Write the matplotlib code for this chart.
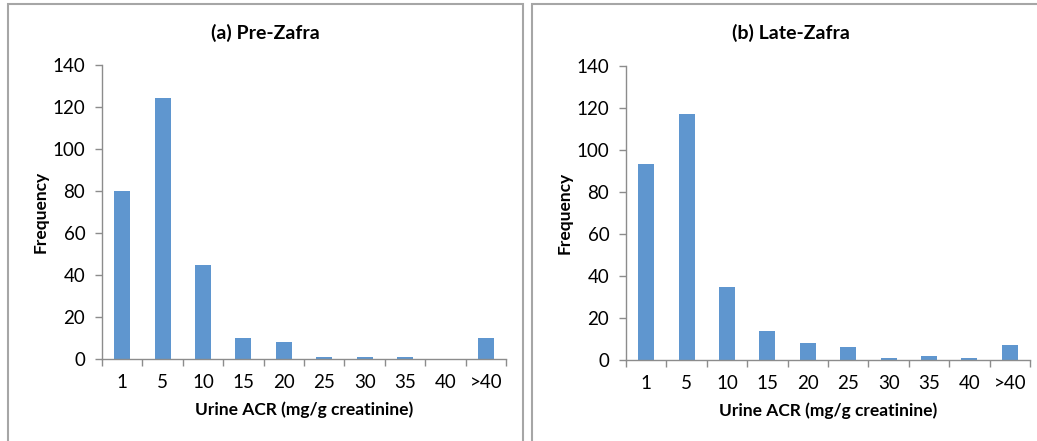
import matplotlib
matplotlib.use("Agg")
from matplotlib import pyplot as plt
from matplotlib.patches import Rectangle
import numpy as np

plt.rcParams['font.family'] = ['Lato', 'DejaVu Sans']

bins = ["1", "5", "10", "15", "20", "25", "30", "35", "40", ">40"]
pre_zafra = [80, 124.5, 45, 10, 8, 1, 1, 1, 0, 10]
late_zafra = [93.5, 117, 35, 14, 8, 6, 1, 2, 1, 7]

titles = ["(a) Pre-Zafra", "(b) Late-Zafra"]
bar_color = "#5F96CF"
axis_gray = "#8C8C8C"

W, H = 1037, 441
fig = plt.figure(figsize=(W / 100, H / 100), dpi=100)

# panel frames (pixel coords -> figure fraction)
for x0, x1 in [(8, 523), (532, 1060)]:
    fig.patches.append(Rectangle((x0 / W, -0.05), (x1 - x0) / W, 1.05 - 4 / H,
                                 transform=fig.transFigure, fill=False,
                                 edgecolor="#A6A6A6", linewidth=1.5))

panels = [
    (102, 506, 65, 359, pre_zafra, 265),
    (626, 1030, 66, 360, late_zafra, 791),
]

x = np.arange(len(bins))
for (px0, px1, py0, py1, vals, tx), title in zip(panels, titles):
    ax = fig.add_axes([px0 / W, 1 - py1 / H, (px1 - px0) / W, (py1 - py0) / H])
    ax.bar(x, vals, width=0.4, color=bar_color)
    ax.set_xlim(-0.5, len(bins) - 0.5)
    ax.set_ylim(0, 140)
    ax.set_yticks(range(0, 141, 20))
    ax.set_xticks(x)
    ax.set_xticklabels(bins)
    ax.set_xticks(np.arange(-0.5, len(bins), 1), minor=True)
    ax.tick_params(axis="x", which="major", length=0, pad=11, labelsize=13.5)
    ax.tick_params(axis="x", which="minor", length=5, color=axis_gray, width=1)
    ax.tick_params(axis="y", length=5, color=axis_gray, width=1, pad=7, labelsize=13.5)
    for s in ["top", "right"]:
        ax.spines[s].set_visible(False)
    for s in ["left", "bottom"]:
        ax.spines[s].set_color(axis_gray)
        ax.spines[s].set_linewidth(1)
    ax.set_xlabel("Urine ACR (mg/g creatinine)", fontweight="bold", fontsize=12.5, labelpad=7)
    ax.set_ylabel("Frequency", fontweight="bold", fontsize=12.5, labelpad=3)
    fig.text(tx / W, 1 - 33 / H, title, ha="center", va="center",
             fontweight="bold", fontsize=14)

fig.savefig("out.png", dpi=100)
